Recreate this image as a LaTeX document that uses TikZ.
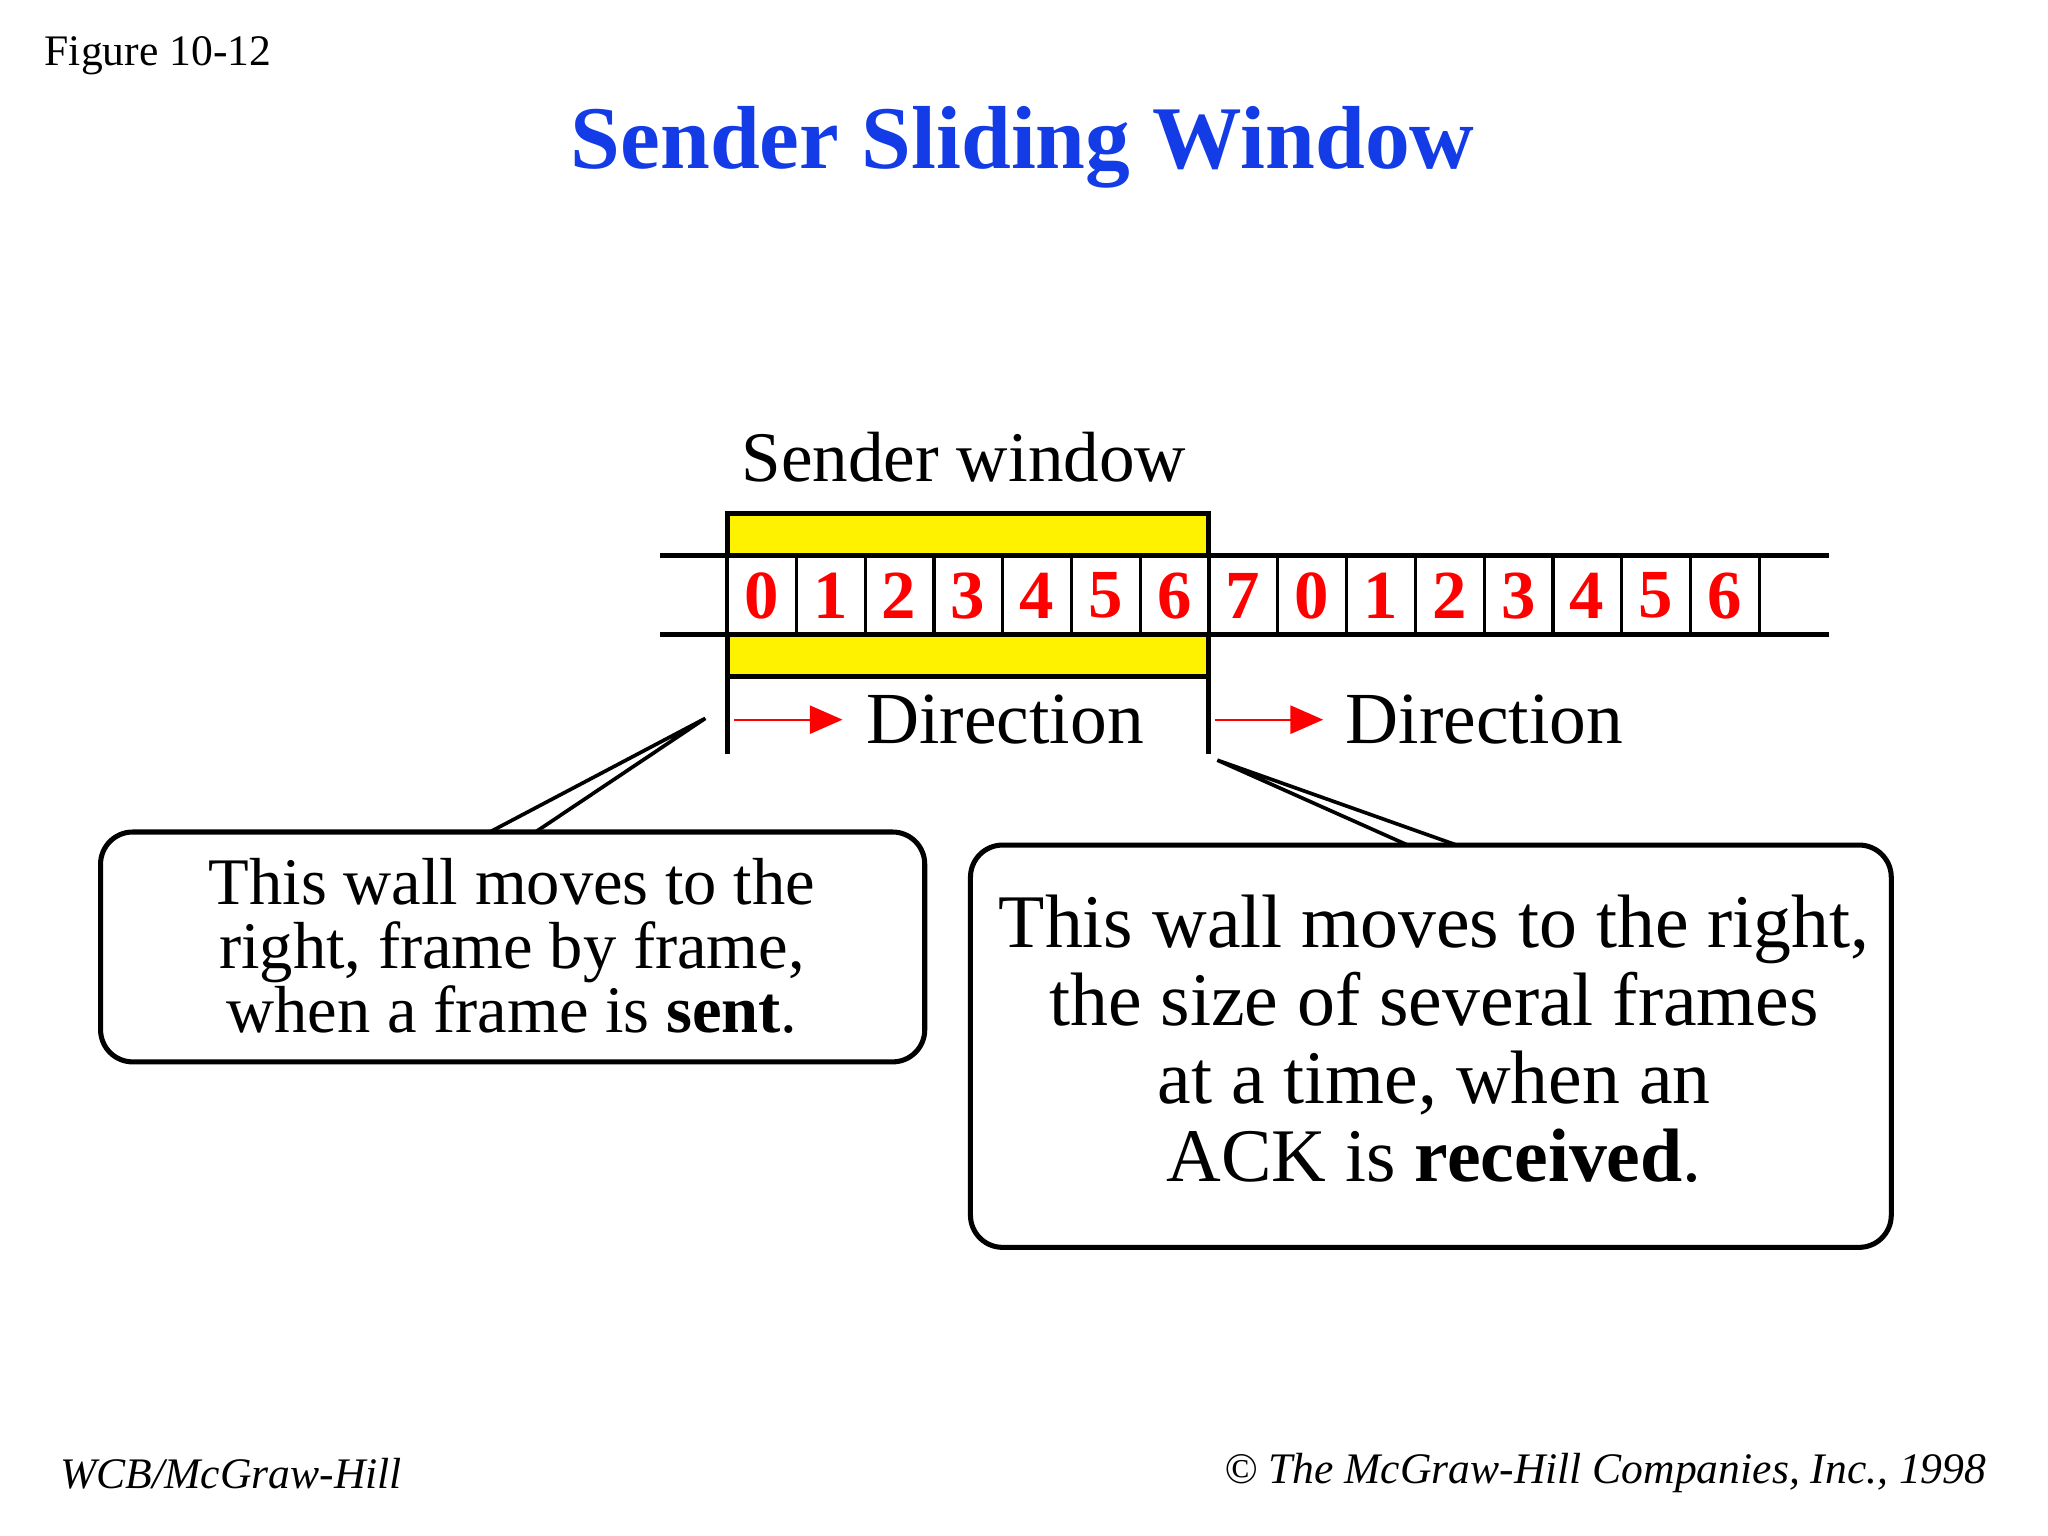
\documentclass[tikz,border=0pt]{standalone}
\usepackage{fontspec}
\setmainfont{Liberation Serif}
\begin{document}
\begin{tikzpicture}[x=0.02cm,y=-0.02cm,
  dig/.style={text=red,font=\fontsize{30}{30}\selectfont\bfseries,inner sep=0},
  ln/.style={line width=2.2pt},
  call/.style={draw,line width=2.2pt,rounded corners=14pt,fill=white},
  ctext/.style={align=center,font=\fontsize{29}{28}\selectfont},
  dir/.style={font=\fontsize{32}{32}\selectfont,anchor=west,inner sep=0},
  rarr/.style={red,line width=1pt}]
\useasboundingbox (0,0) rectangle (1568,1176);
\fill[white] (0,0) rectangle (1568,1176);
\node[anchor=west,font=\fontsize{19}{19}\selectfont] (fig) at (28,43) {Figure 10-12};
\node[font=\fontsize{39}{39}\selectfont\bfseries,text={rgb,255:red,20;green,60;blue,230}] (title) at (783,113) {Sender Sliding Window};
\node[font=\fontsize{31}{31}\selectfont] (sw) at (738,350) {Sender window};
% yellow window
\fill[yellow] (557,393) rectangle (925,518);
\draw[ln] (557,518) -- (557,393) -- (925,393) -- (925,518);
\draw[ln] (557,518) -- (925,518);
% tape
\fill[white] (557,425) rectangle (1347,486);
\draw[ln] (505,425) -- (1400,425);
\draw[ln] (505,486) -- (1400,486);
\foreach \i in {0,...,15} \draw[line width=1.4pt] ({557+52.67*\i},425) -- ({557+52.67*\i},486);
\foreach \d [count=\i from 0] in {0,1,2,3,4,5,6,7,0,1,2,3,4,5,6}
  \node[dig] (c\i) at ({557+52.67*\i+26},456) {\d};
% walls
\draw[ln] (557,518) -- (557,577);
\draw[ln] (925,518) -- (925,577);
% arrows
\coordinate (a1) at (562,551);
\draw[rarr] (a1) -- (622,551);
\fill[red] (620,540) -- (645,551) -- (620,562) -- cycle;
\node[dir] (d1) at (663,551) {Direction};
\coordinate (b1) at (930,551);
\draw[rarr] (b1) -- (990,551);
\fill[red] (988,540) -- (1013,551) -- (988,562) -- cycle;
\node[dir] (d2) at (1030,551) {Direction};
% left callout
\coordinate (p1) at (540,550);
\draw[line width=1.6pt] (375,637) -- (p1) -- (410,637);
\node[call,minimum width=631*0.02cm,minimum height=176*0.02cm] (lb) at (392.5,725) {};
\node[ctext] (lt) at (392,724) {This wall moves to the\\right, frame by frame,\\when a frame is \textbf{sent}.};
% right callout
\coordinate (p2) at (932,582);
\draw[line width=1.6pt] (1080,648) -- (p2) -- (1118,648);
\node[call,minimum width=705*0.02cm,minimum height=308*0.02cm] (rb) at (1095.5,801) {};
\node[ctext,font=\fontsize{33}{34}\selectfont] (rt) at (1098,795) {This wall moves to the right,\\the size of several frames\\at a time, when an\\ACK is \textbf{received}.};
% footer
\node[anchor=west,font=\fontsize{19}{19}\selectfont\itshape] (f1) at (40,1128) {WCB/McGraw-Hill};
\node[anchor=east,font=\fontsize{19}{19}\selectfont\itshape] (f2) at (1527,1128) {\textcopyright{} The McGraw-Hill Companies, Inc., 1998};
\end{tikzpicture}
\end{document}
